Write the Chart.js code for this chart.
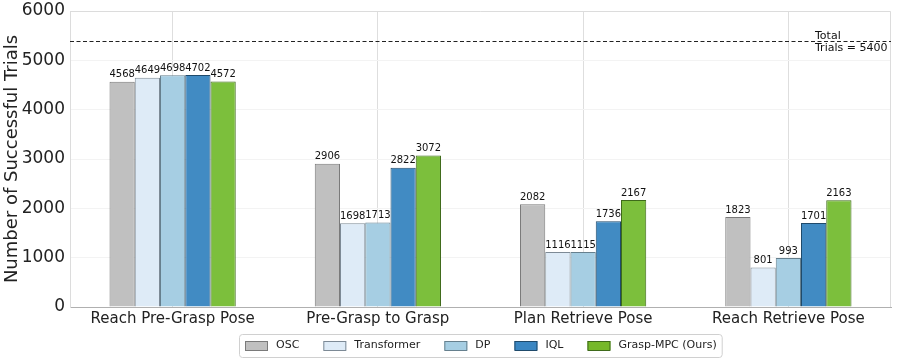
<!DOCTYPE html>
<html><head><meta charset="utf-8">
<script src="https://cdn.jsdelivr.net/npm/chart.js@4"></script>
<style>html,body{margin:0;padding:0;background:#fff}#w{width:897px;height:361px}</style>
</head><body><div id="w"><canvas id="c"></canvas></div>
<script>
const categories = ["Reach Pre-Grasp Pose","Pre-Grasp to Grasp","Plan Retrieve Pose","Reach Retrieve Pose"];
const osc = [4568, 2906, 2082, 1823];
const transformer = [4649, 1698, 1116, 801];
const dp = [4698, 1713, 1115, 993];
const iql = [4702, 2822, 1736, 1701];
const graspMpc = [4572, 3072, 2167, 2163];
const seriesNames = ["OSC","Transformer","DP","IQL","Grasp-MPC (Ours)"];
const totalTrials = 5400;
const yTicks = [0,1000,2000,3000,4000,5000,6000];

const fills = ["#c0c0c0","#deebf7","#a6cee3","#418bc3","#7cbf3c"];
const edges = ["#7a7a7a","#7d8a96","#66808e","#1f4a6b","#3e6a1a"];
const legendFills = ["#c0c0c0","#deebf7","#a6cee3","#3a86c2","#76b82a"];
const seriesData = [osc, transformer, dp, iql, graspMpc];
const FONT = "'DejaVu Sans', sans-serif";

const extras = {
  id: 'extras',
  beforeDatasetsDraw(chart) {
    const {ctx, chartArea: a} = chart;
    ctx.save();
    ctx.strokeStyle = '#dcdcdc'; ctx.lineWidth = 1;
    ctx.beginPath();
    ctx.moveTo(a.left + 0.5, a.bottom); ctx.lineTo(a.left + 0.5, a.top + 0.5);
    ctx.lineTo(a.right - 0.5, a.top + 0.5); ctx.lineTo(a.right - 0.5, a.bottom);
    ctx.stroke();
    ctx.restore();
  },
  afterDatasetsDraw(chart) {
    const {ctx, chartArea: a, scales: {y}} = chart;
    ctx.save();
    // value labels
    ctx.font = "10px " + FONT; ctx.fillStyle = '#111'; ctx.textAlign = 'center'; ctx.textBaseline = 'bottom';
    chart.data.datasets.forEach((ds, i) => {
      chart.getDatasetMeta(i).data.forEach((bar, j) => {
        ctx.fillText(String(ds.data[j]), bar.x, bar.y - 2);
      });
    });
    // total line
    const ty = Math.round(y.getPixelForValue(totalTrials)) + 0.5;
    ctx.strokeStyle = '#222'; ctx.lineWidth = 1; ctx.setLineDash([4, 2.5]);
    ctx.beginPath(); ctx.moveTo(a.left, ty); ctx.lineTo(a.right, ty); ctx.stroke();
    ctx.setLineDash([]);
    ctx.font = "11px " + FONT; ctx.textAlign = 'left'; ctx.textBaseline = 'alphabetic'; ctx.fillStyle = '#111';
    ctx.fillText('Total', 815, ty - 3);
    ctx.fillText('Trials = ' + totalTrials, 815, ty + 9);
    // legend
    ctx.font = "11px " + FONT;
    const boxW = 23, boxH = 9, gap = 8, sep = 24;
    const widths = seriesNames.map(n => ctx.measureText(n).width);
    const total = widths.reduce((s, w) => s + w, 0) + seriesNames.length * (boxW + gap) + (seriesNames.length - 1) * sep;
    let x = Math.round((a.left + a.right) / 2 - total / 2);
    const cy = 345.5;
    ctx.strokeStyle = '#d0d0d0'; ctx.lineWidth = 1;
    ctx.beginPath(); ctx.roundRect(x - 5.5, 334.5, total + 11, 23, 3); ctx.stroke();
    ctx.textBaseline = 'middle'; ctx.fillStyle = '#222';
    seriesNames.forEach((n, i) => {
      ctx.fillStyle = legendFills[i];
      ctx.fillRect(x, cy - boxH / 2, boxW, boxH);
      ctx.strokeStyle = edges[i];
      ctx.strokeRect(x + 0.5, Math.round(cy - boxH / 2) + 0.5, boxW - 1, boxH);
      ctx.fillStyle = '#222';
      ctx.fillText(n, x + boxW + gap, cy);
      x += boxW + gap + widths[i] + sep;
    });
    ctx.restore();
  }
};

new Chart(document.getElementById('c'), {
  type: 'bar',
  data: {
    labels: categories,
    datasets: seriesData.map((d, i) => ({
      label: seriesNames[i], data: d,
      backgroundColor: fills[i], borderColor: edges[i], borderWidth: 1,
      barPercentage: 1.0, categoryPercentage: 0.615
    }))
  },
  options: {
    responsive: true, maintainAspectRatio: false, animation: false,
    layout: {padding: {left: 0, right: 6, top: 11, bottom: 30}},
    plugins: {
      legend: {display: false},
      tooltip: {enabled: false}
    },
    scales: {
      x: {
        grid: {offset: false, color: '#dedede', drawTicks: false},
        border: {color: '#b0b0b0'},
        ticks: {font: {family: FONT, size: 15}, color: '#222', padding: 3, maxRotation: 0}
      },
      y: {
        min: 0, max: 6000,
        afterBuildTicks(s) { s.ticks = yTicks.map(v => ({value: v})); },
        afterFit(s) { s.width = 70; s.paddingTop = 0; s.paddingBottom = 0; },
        grid: {color: '#f3f3f3', drawTicks: false},
        border: {color: '#dcdcdc'},
        ticks: {font: {family: FONT, size: 17}, color: '#222', padding: 5, callback: v => String(v)},
        title: {display: true, text: 'Number of Successful Trials', font: {family: FONT, size: 18}, color: '#222', padding: {top: 2, bottom: 0}}
      }
    }
  },
  plugins: [extras]
});
</script>
</body></html>
